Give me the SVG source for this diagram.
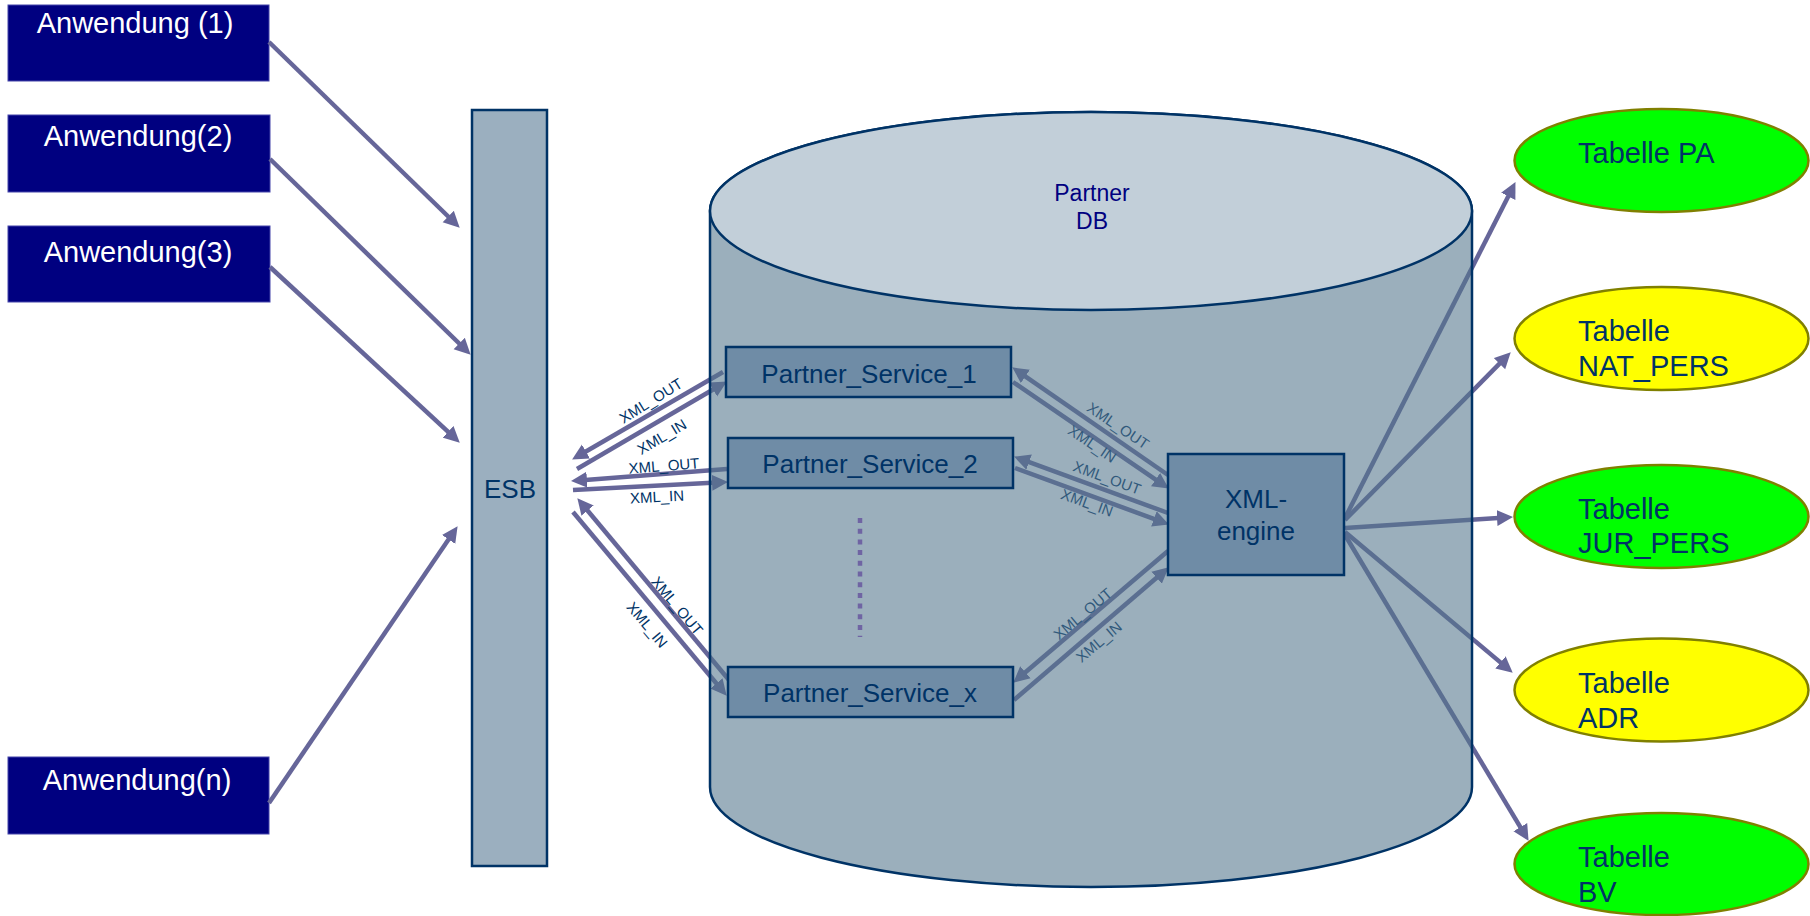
<svg xmlns="http://www.w3.org/2000/svg" width="1810" height="916" viewBox="0 0 1810 916">
  <defs>
    <marker id="arrow" markerUnits="userSpaceOnUse" markerWidth="17" markerHeight="17" viewBox="0 0 17 17" refX="5" refY="8.5" orient="auto">
      <path d="M0,0.5 L16,8.5 L0,16.5 z" fill="#666699"/>
    </marker>
    <style>
      text { font-family: "Liberation Sans", Arial, sans-serif; }
      .app rect { fill: #000080; stroke: #4444AA; stroke-width: 1; }
      .app text { fill: #ffffff; font-size: 29px; text-anchor: middle; }
      .bus { fill: #9BAFBF; stroke: #003366; stroke-width: 2.5; }
      .box { fill: #6F8CA6; stroke: #003366; stroke-width: 2.5; }
      .lbl { fill: #003366; font-size: 26px; text-anchor: middle; }
      .conn line { stroke: #666699; stroke-width: 4.5; fill: none; marker-end: url(#arrow); }
      .tag { fill: #003366; font-size: 15px; text-anchor: middle; }
      .tbl ellipse { stroke: #808000; stroke-width: 2.5; }
      .tbl text { fill: #003366; font-size: 29px; }
      .green { fill: #00FF00; }
      .yellow { fill: #FFFF00; }
    </style>
  </defs>

  <rect x="0" y="0" width="1810" height="916" fill="#ffffff"/>

  <!-- client applications -->
  <g id="app-1" class="app">
    <rect x="8" y="5" width="261" height="76"/>
    <text x="135" y="33">Anwendung (1)</text>
  </g>
  <g id="app-2" class="app">
    <rect x="8" y="115" width="262" height="77"/>
    <text x="138" y="146">Anwendung(2)</text>
  </g>
  <g id="app-3" class="app">
    <rect x="8" y="226" width="262" height="76"/>
    <text x="138" y="262">Anwendung(3)</text>
  </g>
  <g id="app-n" class="app">
    <rect x="8" y="757" width="261" height="77"/>
    <text x="137" y="790">Anwendung(n)</text>
  </g>

  <!-- service bus -->
  <g id="esb">
    <rect class="bus" x="472" y="110" width="75" height="756"/>
    <text class="lbl" x="510" y="498">ESB</text>
  </g>

  <!-- connectors (drawn below the translucent database body) -->
  <g id="connectors" class="conn">
    <!-- applications to ESB -->
    <line x1="269" y1="42" x2="451.8" y2="220.0"/>
    <line x1="270" y1="159" x2="462.8" y2="347.0"/>
    <line x1="270" y1="267" x2="451.7" y2="435.2"/>
    <line x1="269" y1="803" x2="451.4" y2="535.3"/>

    <!-- ESB <-> partner services -->
    <line x1="723" y1="372" x2="581.6" y2="454.0"/>
    <line x1="577" y1="469" x2="717.4" y2="387.0"/>
    <line x1="727" y1="469" x2="582.0" y2="480.2"/>
    <line x1="573" y1="490" x2="717.0" y2="482.5"/>
    <line x1="729" y1="680" x2="584.4" y2="506.7"/>
    <line x1="573" y1="512" x2="719.6" y2="687.3"/>

    <!-- partner services <-> XML engine -->
    <line x1="1168" y1="475" x2="1021.3" y2="373.6"/>
    <line x1="1013" y1="382" x2="1159.7" y2="482.4"/>
    <line x1="1168" y1="513" x2="1024.4" y2="460.4"/>
    <line x1="1015" y1="468" x2="1158.6" y2="520.6"/>
    <line x1="1168" y1="551" x2="1021.6" y2="675.5"/>
    <line x1="1014" y1="700" x2="1160.4" y2="574.5"/>

    <!-- XML engine to tables -->
    <line x1="1345" y1="518" x2="1510.5" y2="191.9"/>
    <line x1="1345" y1="520" x2="1503.0" y2="360.1"/>
    <line x1="1345" y1="528" x2="1502.0" y2="517.7"/>
    <line x1="1345" y1="532" x2="1504.3" y2="665.6"/>
    <line x1="1345" y1="535" x2="1522.9" y2="831.4"/>

    <!-- message labels -->
    <text class="tag" transform="translate(651,401) rotate(-32)" y="5">XML_OUT</text>
    <text class="tag" transform="translate(662,437) rotate(-31)" y="5">XML_IN</text>
    <text class="tag" transform="translate(664,466) rotate(-4.5)" y="5">XML_OUT</text>
    <text class="tag" transform="translate(657,497) rotate(-3)" y="5">XML_IN</text>
    <text class="tag" transform="translate(677,606) rotate(50)" y="5">XML_OUT</text>
    <text class="tag" transform="translate(647,625) rotate(50)" y="5">XML_IN</text>

    <text class="tag" transform="translate(1118,426) rotate(34)" y="5">XML_OUT</text>
    <text class="tag" transform="translate(1092,444) rotate(34)" y="5">XML_IN</text>
    <text class="tag" transform="translate(1107,478) rotate(20)" y="5">XML_OUT</text>
    <text class="tag" transform="translate(1087,503) rotate(20)" y="5">XML_IN</text>
    <text class="tag" transform="translate(1083,614) rotate(-40)" y="5">XML_OUT</text>
    <text class="tag" transform="translate(1099,642) rotate(-40)" y="5">XML_IN</text>
  </g>

  <!-- partner database cylinder -->
  <g id="partner-db">
    <path d="M710,211 L710,787 A381,100 0 0 0 1472,787 L1472,211 A381,99 0 0 0 710,211 Z"
          fill="rgb(83,117,140)" fill-opacity="0.58" stroke="#003366" stroke-width="2.5"/>
    <ellipse cx="1091" cy="211" rx="381" ry="99" fill="#C2CFD9" stroke="#003366" stroke-width="2.5"/>
    <text x="1092" y="201" fill="#000080" font-size="23" text-anchor="middle">Partner</text>
    <text x="1092" y="229" fill="#000080" font-size="23" text-anchor="middle">DB</text>
  </g>

  <g id="partner-service-1">
    <rect class="box" x="726" y="347" width="285" height="50"/>
    <text class="lbl" x="869" y="383">Partner_Service_1</text>
  </g>
  <g id="partner-service-2">
    <rect class="box" x="728" y="438" width="285" height="50"/>
    <text class="lbl" x="870" y="473">Partner_Service_2</text>
  </g>
  <g id="partner-service-more">
    <line x1="860" y1="518" x2="860" y2="637" stroke="#6F64A3" stroke-width="4.5" stroke-dasharray="5 5.7"/>
  </g>
  <g id="partner-service-x">
    <rect class="box" x="728" y="667" width="285" height="50"/>
    <text class="lbl" x="870" y="702">Partner_Service_x</text>
  </g>

  <g id="xml-engine">
    <rect class="box" x="1168" y="454" width="176" height="121"/>
    <text class="lbl" x="1256" y="508">XML-</text>
    <text class="lbl" x="1256" y="540">engine</text>
  </g>

  <!-- database tables -->
  <g id="table-pa" class="tbl">
    <ellipse class="green" cx="1661.5" cy="160.5" rx="147" ry="51.5"/>
    <text x="1578" y="163">Tabelle PA</text>
  </g>
  <g id="table-nat-pers" class="tbl">
    <ellipse class="yellow" cx="1661.5" cy="338.5" rx="147" ry="51.5"/>
    <text x="1578" y="341">Tabelle</text>
    <text x="1578" y="376">NAT_PERS</text>
  </g>
  <g id="table-jur-pers" class="tbl">
    <ellipse class="green" cx="1661.5" cy="516.5" rx="147" ry="51.5"/>
    <text x="1578" y="519">Tabelle</text>
    <text x="1578" y="553">JUR_PERS</text>
  </g>
  <g id="table-adr" class="tbl">
    <ellipse class="yellow" cx="1661.5" cy="690" rx="147" ry="51.5"/>
    <text x="1578" y="693">Tabelle</text>
    <text x="1578" y="728">ADR</text>
  </g>
  <g id="table-bv" class="tbl">
    <ellipse class="green" cx="1661.5" cy="864" rx="147" ry="51"/>
    <text x="1578" y="867">Tabelle</text>
    <text x="1578" y="902">BV</text>
  </g>
</svg>
